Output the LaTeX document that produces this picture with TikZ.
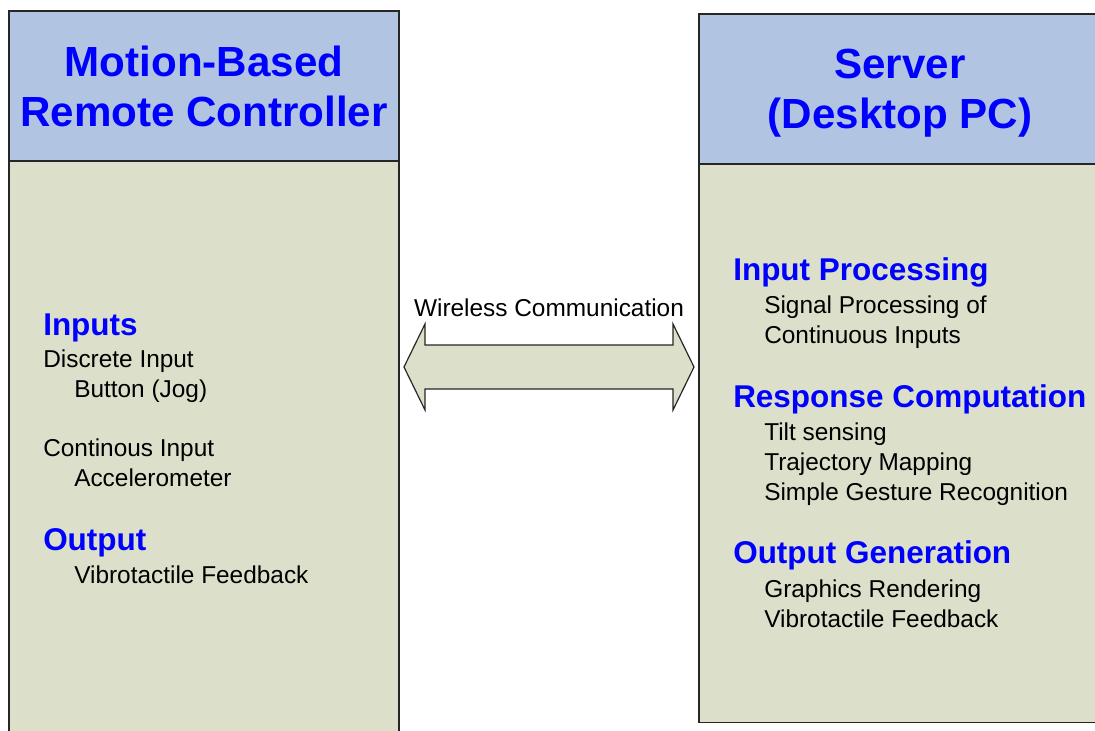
\documentclass[tikz,border=0pt]{standalone}
\usepackage{fontspec}
\setmainfont{Liberation Sans}

\definecolor{headblue}{HTML}{B1C5E3}
\definecolor{bodygreen}{HTML}{DCE0CB}
\definecolor{titleblue}{HTML}{0000FF}

\begin{document}
\begin{tikzpicture}[x=0.75pt,y=-0.75pt,
	box/.style={draw=black!85,line width=0.9pt},
	title/.style={inner sep=0pt,align=center,text=titleblue,
		font=\fontsize{31.6}{37.5}\selectfont\bfseries},
	heading/.style={anchor=base west,inner sep=0pt,text=titleblue,
		font=\fontsize{23.6}{28}\selectfont\bfseries},
	item/.style={anchor=base west,inner sep=0pt,
		font=\fontsize{18.3}{22.5}\selectfont}]
	\useasboundingbox (0,0) rectangle (1095,731);
	\def\dy{30} % line spacing of the entries
	% controller column
	\draw[box,fill=bodygreen] (9,161) rectangle (399,745);
	\draw[box,fill=headblue] (9,11) rectangle (399,161);
	\node[title] (ctrl) at (204,86) {Motion-Based\\Remote Controller};
	% server column
	\draw[box,fill=bodygreen] (699,164) rectangle (1101,722.5);
	\draw[box,fill=headblue] (699,14) rectangle (1101,164);
	\node[title] (server) at (900,93) {Server\\(Desktop PC)};
	% link between the two
	\draw[box,fill=bodygreen] (404,367) -- (425,324) -- (425,345) -- (673,345) -- (673,324)
		-- (694,367) -- (673,410) -- (673,389) -- (425,389) -- (425,410) -- cycle;
	\node[item,anchor=base] (link) at (549,316) {Wireless Communication};
	% controller entries
	\node[heading] (inputs) at (43,335) {Inputs};
	\node[item] (discrete) at (43,367) {Discrete Input};
	\node[item] (button) at (74,367+\dy) {Button (Jog)};
	\node[item] (contin) at (43,456) {Continous Input};
	\node[item] (accel) at (74,456+\dy) {Accelerometer};
	\node[heading] (output) at (43,550) {Output};
	\node[item] (vibro) at (74,583) {Vibrotactile Feedback};
	% server entries
	\node[heading] (inproc) at (733,280) {Input Processing};
	\foreach \t [count=\i] in {Signal Processing of,Continuous Inputs}
		\node[item] (inproc\i) at (764,283+\dy*\i) {\t};
	\node[heading] (resp) at (733,407) {Response Computation};
	\foreach \t [count=\i] in {Tilt sensing,Trajectory Mapping,Simple Gesture Recognition}
		\node[item] (resp\i) at (764,410+\dy*\i) {\t};
	\node[heading] (outgen) at (733,563) {Output Generation};
	\foreach \t [count=\i] in {Graphics Rendering,Vibrotactile Feedback}
		\node[item] (outgen\i) at (764,567+\dy*\i) {\t};
\end{tikzpicture}
\end{document}
